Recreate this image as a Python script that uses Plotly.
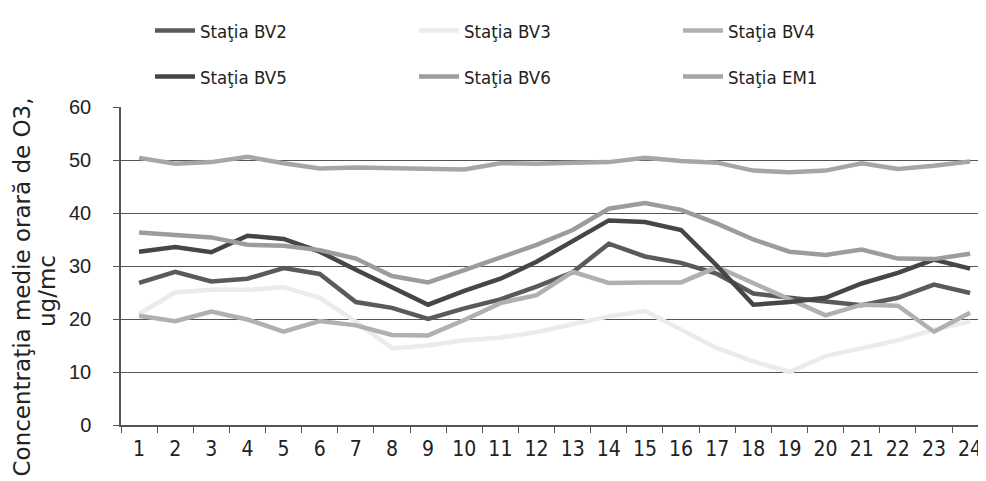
import plotly.graph_objects as go

hours = [str(h) for h in range(1, 25)]

bv2 = [26.8, 28.9, 27.1, 27.6, 29.6, 28.5, 23.2, 22.1, 20.0, 22.0, 23.7, 26.1,
       28.8, 34.2, 31.8, 30.6, 28.5, 24.8, 24.0, 23.4, 22.6, 24.0, 26.5, 24.9]
bv3 = [21.0, 25.0, 25.5, 25.5, 26.0, 24.0, 19.5, 14.5, 15.0, 16.0, 16.5, 17.5,
       19.0, 20.5, 21.5, 18.0, 14.5, 12.0, 10.0, 13.0, 14.5, 16.0, 18.0, 19.5]
bv4 = [20.6, 19.6, 21.4, 19.9, 17.6, 19.6, 18.8, 17.0, 16.9, 19.8, 23.0, 24.5,
       28.9, 26.8, 26.9, 26.9, 29.8, 26.8, 23.8, 20.7, 22.7, 22.5, 17.6, 21.2]
bv5 = [32.7, 33.6, 32.6, 35.7, 35.1, 32.7, 29.3, 25.9, 22.7, 25.3, 27.6, 30.8,
       34.6, 38.6, 38.3, 36.8, 30.0, 22.7, 23.2, 24.0, 26.7, 28.7, 31.2, 29.5]
bv6 = [36.3, 35.9, 35.4, 34.0, 33.8, 33.0, 31.4, 28.1, 26.9, 29.2, 31.7, 34.0,
       36.8, 40.8, 41.9, 40.6, 38.0, 35.0, 32.7, 32.1, 33.1, 31.4, 31.3, 32.3]
em1 = [50.4, 49.3, 49.6, 50.6, 49.4, 48.4, 48.6, 48.5, 48.2, 48.2, 49.4, 49.3,
       49.5, 49.6, 50.4, 49.8, 49.5, 48.0, 47.7, 48.0, 49.4, 48.3, 48.9, 49.7]

y_ticks = [0, 10, 20, 30, 40, 50, 60]

series = [
    ("Staţia BV2", bv2, "#5a5a5a", "legend"),
    ("Staţia BV3", bv3, "#ebebeb", "legend"),
    ("Staţia BV4", bv4, "#b0b0b0", "legend"),
    ("Staţia BV5", bv5, "#464646", "legend2"),
    ("Staţia BV6", bv6, "#9c9c9c", "legend2"),
    ("Staţia EM1", em1, "#a6a6a6", "legend2"),
]

fig = go.Figure()
for name, vals, color, leg in series:
    fig.add_trace(go.Scatter(
        x=hours, y=vals, name=name, mode="lines",
        line=dict(color=color, width=4.5),
        legend=leg,
    ))

font_family = "Liberation Sans, Arial, sans-serif"
narrow_family = "Liberation Sans Narrow, Arial Narrow, DejaVu Sans Condensed, Liberation Sans, sans-serif"
title_family = "DejaVu Sans, Liberation Sans, sans-serif"

# the page body adds an 8 px offset; the figure is sized to fill the rest
W, H = 978, 473
L, R, T, B = 113, 0, 99, 56
PW, PH = W - L - R, H - T - B

legend_common = dict(
    orientation="h", xref="container", yref="container",
    xanchor="left", yanchor="middle",
    entrywidth=209, entrywidthmode="pixels",
    font=dict(family=narrow_family, size=18.5, color="#222"),
    bgcolor="rgba(0,0,0,0)", itemwidth=40,
)

fig.update_layout(
    width=W, height=H,
    margin=dict(l=L, r=R, t=T, b=B, autoexpand=False),
    paper_bgcolor="white", plot_bgcolor="white",
    font=dict(family=font_family, size=19, color="#222"),
    showlegend=True,
    legend=dict(x=142 / W, y=1 - 23 / H, **legend_common),
    legend2=dict(x=142 / W, y=1 - 69 / H, **legend_common),
    xaxis=dict(
        type="category", range=[-0.5, 23.44],
        tickson="boundaries", ticks="outside", ticklen=6, tickcolor="#555",
        showline=True, linecolor="#555", linewidth=1.5,
        showgrid=False, tickfont=dict(family=narrow_family, size=21, color="#222"),
        ticklabelstandoff=4,
    ),
    yaxis=dict(
        range=[0, 60], tickvals=y_ticks, ticks="outside", ticklen=6,
        tickcolor="#555", showline=True, linecolor="#555", linewidth=1.5,
        showgrid=True, gridcolor="#555", gridwidth=1, zeroline=False,
        tickfont=dict(size=20, color="#222"), ticklabelstandoff=18,
    ),
    annotations=[
        dict(text="Concentraţia medie orară de O3,",
             xref="paper", yref="paper",
             x=(13.5 - L) / PW, y=(417 - 279) / PH,
             xanchor="center", yanchor="middle", textangle=-90, showarrow=False,
             font=dict(family=title_family, size=23, color="#222")),
        dict(text="ug/mc",
             xref="paper", yref="paper",
             x=(39 - L) / PW, y=(417 - 283) / PH,
             xanchor="center", yanchor="middle", textangle=-90, showarrow=False,
             font=dict(family=title_family, size=23, color="#222")),
    ],
)

fig.write_html("out.html")
